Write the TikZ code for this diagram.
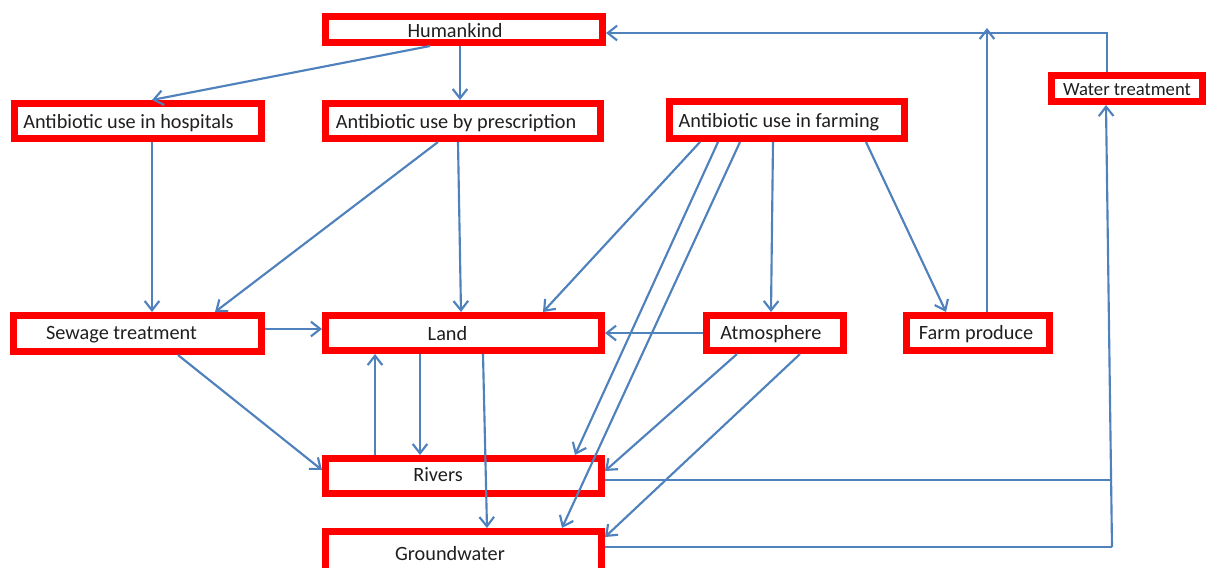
\documentclass[tikz,border=0pt]{standalone}
\usepackage{fontspec}
\setmainfont{Carlito}
\usetikzlibrary{arrows.meta}
\definecolor{boxred}{HTML}{FF0000}
\definecolor{lineblue}{HTML}{4F81BD}
\definecolor{txt}{HTML}{1F1F1F}
\tikzset{
  rbox/.style={draw=boxred, line width=4.9pt, fill=white, inner sep=0pt, rectangle},
  lbl/.style={text=txt, font=\fontsize{15.2}{18}\selectfont, inner sep=0pt},
  conn/.style={draw=lineblue, line width=1.6pt, -{Straight Barb[length=7pt,width=11pt,line width=1.6pt]}},
  plain/.style={draw=lineblue, line width=1.6pt}
}
\newcommand\rbox[8]{\node[rbox, minimum width={(#4-#2-6.5)*0.75pt}, minimum height={(#5-#3-6.5)*0.75pt},
  label={[lbl,xshift={#7*0.75pt},yshift={#8*0.75pt}]center:#6}] (#1) at ({(#2+#4)/2},{(#3+#5)/2}) {};}
\begin{document}
\begin{tikzpicture}[x=0.75pt,y=-0.75pt]
\useasboundingbox (0,0) rectangle (1208,568);
\clip (0,0) rectangle (1208,568);
\fill[white] (0,0) rectangle (1208,568);
% boxes
\rbox{hk}{322}{13}{606}{46}{Humankind}{-9}{-1.5}
\rbox{hosp}{11}{100}{265}{142}{Antibiotic use in hospitals}{-9.5}{-2.5}
\rbox{presc}{322}{100}{604}{142}{Antibiotic use by prescription}{-7}{-2.5}
\rbox{farm}{666}{98}{908}{142}{Antibiotic use in farming}{-8}{-2.5}
\rbox{wt}{1048}{72}{1206}{105}{\fontsize{14}{16}\selectfont Water treatment}{0}{-1}
\rbox{sew}{10}{312}{265}{355}{Sewage treatment}{-16}{-1.5}
\rbox{land}{322}{312}{605}{354}{Land}{-16}{-1}
\rbox{atm}{703}{312}{847}{354}{Atmosphere}{-4}{-1.5}
\rbox{fp}{903}{312}{1053}{354}{Farm produce}{-2}{-1.5}
\rbox{riv}{322}{455}{605}{497}{Rivers}{-25.5}{1.5}
\rbox{gw}{322}{528}{605}{578}{Groundwater}{-13.5}{-0.5}
% helper coordinates
\coordinate (fptop) at (987,28);
\coordinate (jt) at (1107,33);
\coordinate (jr) at (1112,480);
\coordinate (jg) at (1112,547);
% connectors
\draw[conn] (hk.south -| 430,0) -- (hosp.north -| 152,0);
\draw[conn] (hk.south -| 460,0) -- (presc.north -| 460,0);
\draw[conn] (hosp.south -| 152,0) -- (sew.north -| 152,0);
\draw[conn] (presc.south -| 438,0) -- (sew.north -| 215,0);
\draw[conn] (presc.south -| 458,0) -- (land.north -| 461,0);
\draw[conn] (farm.south -| 700,0) -- (land.north -| 543,0);
\draw[conn] (farm.south -| 718,0) -- (riv.north -| 575,0);
\draw[conn] (farm.south -| 740,0) -- (gw.north -| 562,0);
\draw[conn] (farm.south -| 773,0) -- (atm.north -| 771,0);
\draw[conn] (farm.south -| 866,0) -- (fp.north -| 946,0);
\draw[conn] (fp.north -| 987,0) -- (fptop);
\draw[conn] (wt.north -| 1107,0) -- (jt) -- (hk.east |- jt);
\draw[conn] (sew.east |- 0,329) -- (land.west |- 0,329);
\draw[conn] (atm.west |- 0,333) -- (land.east |- 0,333);
\draw[conn] (sew.south -| 178,0) -- (riv.west |- 0,470);
\draw[conn] (land.south -| 420,0) -- (riv.north -| 420,0);
\draw[conn] (riv.north -| 375,0) -- (land.south -| 375,0);
\draw[conn] (land.south -| 483,0) -- (gw.north -| 487,0);
\draw[conn] (atm.south -| 737,0) -- (riv.east |- 0,471);
\draw[conn] (atm.south -| 800,0) -- (gw.east |- 0,537);
\draw[plain] (riv.east |- jr) -- (jr);
\draw[plain] (gw.east |- jg) -- (jg);
\draw[conn] (jg) -- (wt.south -| 1106,0);
\end{tikzpicture}
\end{document}
